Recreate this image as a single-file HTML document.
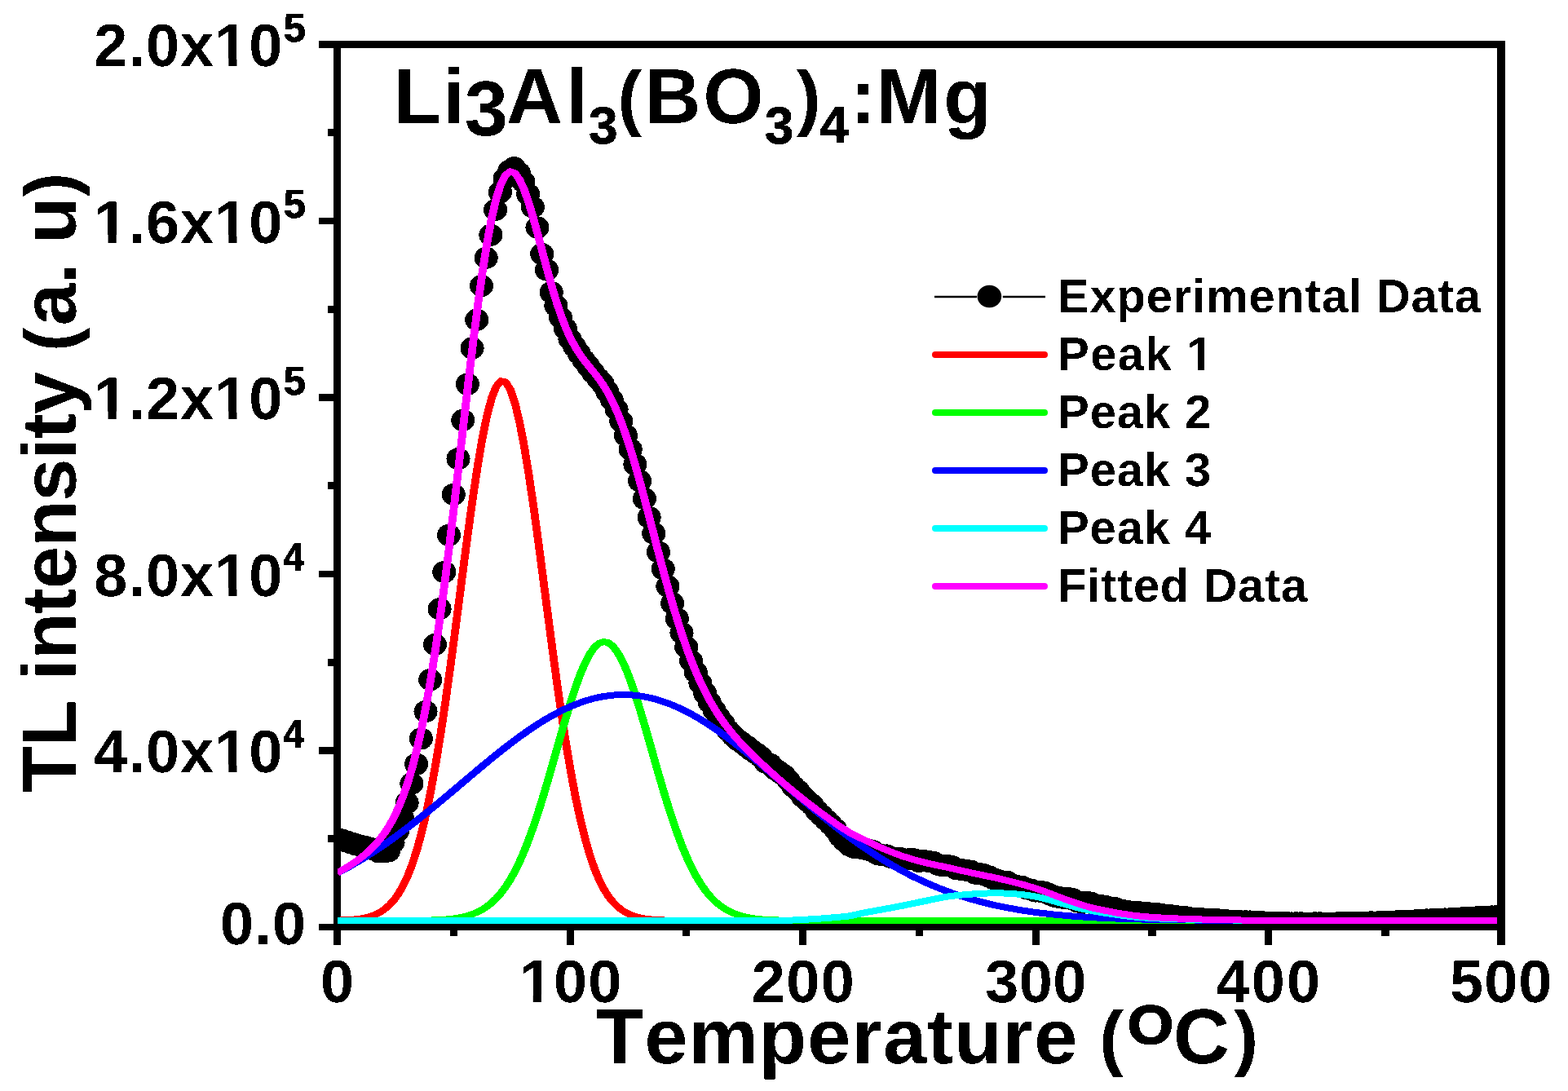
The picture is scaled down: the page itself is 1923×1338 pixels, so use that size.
<!DOCTYPE html>
<html lang="en"><head><meta charset="utf-8"><title>TL glow curve - Li3Al3(BO3)4:Mg</title>
<style>html,body{margin:0;padding:0;background:#fff;overflow:hidden}svg{display:block}text{font-family:"Liberation Sans",Arial,Helvetica,sans-serif;font-weight:bold;fill:#000;white-space:pre;font-kerning:none;text-rendering:geometricPrecision}</style></head><body>
<svg width="1923" height="1338" viewBox="0 0 1923 1338">
<rect width="1923" height="1338" fill="#fff"/>
<defs><clipPath id="c"><rect x="414" y="59" width="1422" height="1074"/></clipPath><filter id="bw" filterUnits="userSpaceOnUse" x="0" y="0" width="1923" height="1338" color-interpolation-filters="sRGB"><feComponentTransfer><feFuncA type="discrete" tableValues="0 1"/></feComponentTransfer></filter></defs>
<g fill="#000" shape-rendering="crispEdges"><rect x="409" y="50" width="9" height="1109"/><rect x="1836" y="50" width="10" height="1109"/><rect x="391" y="50" width="1455" height="9"/><rect x="391" y="1133" width="1455" height="8"/><rect x="391" y="267" width="18" height="8"/><rect x="391" y="483" width="18" height="9"/><rect x="391" y="700" width="18" height="8"/><rect x="391" y="916" width="18" height="9"/><rect x="402" y="158" width="7" height="9"/><rect x="402" y="375" width="7" height="9"/><rect x="402" y="591" width="7" height="9"/><rect x="402" y="808" width="7" height="9"/><rect x="402" y="1024" width="7" height="9"/><rect x="695" y="1141" width="9" height="18"/><rect x="980" y="1141" width="9" height="18"/><rect x="1266" y="1141" width="9" height="18"/><rect x="1551" y="1141" width="9" height="18"/><rect x="552" y="1141" width="9" height="7"/><rect x="837" y="1141" width="9" height="7"/><rect x="1123" y="1141" width="9" height="7"/><rect x="1408" y="1141" width="10" height="7"/><rect x="1694" y="1141" width="10" height="7"/></g>
<g clip-path="url(#c)" fill="none" stroke-linejoin="round" shape-rendering="crispEdges">
<path d="M413.50,1029.7 L419.21,1029.9 L424.92,1032.0 L430.63,1033.9 L436.34,1035.7 L442.05,1037.3 L447.76,1038.5 L453.47,1040.1 L459.18,1042.0 L464.89,1044.9 L470.60,1044.9 L476.31,1044.0 L482.02,1033.2 L487.73,1019.0 L493.44,1003.2 L499.15,984.6 L504.86,961.0 L510.57,937.1 L516.28,905.9 L521.99,872.6 L527.70,833.7 L533.41,790.5 L539.12,746.8 L544.83,701.5 L550.54,656.3 L556.25,606.4 L561.96,562.7 L567.67,515.3 L573.38,471.2 L579.09,427.1 L584.80,392.2 L590.51,350.6 L596.22,316.2 L601.93,288.2 L607.64,257.4 L613.35,235.7 L619.06,219.1 L624.77,209.3 L630.48,205.8 L636.19,211.9 L641.90,223.1 L647.61,238.2 L653.32,254.0 L659.03,279.0 L664.74,311.5 L670.45,331.0 L676.16,358.5 L681.87,375.0 L687.58,389.5 L693.29,403.0 L699.00,416.0 L704.71,425.0 L710.42,433.8 L716.13,441.9 L721.84,449.3 L727.55,457.1 L733.26,464.0 L738.97,470.5 L744.68,480.1 L750.39,490.3 L756.10,502.0 L761.81,516.7 L767.52,534.1 L773.23,551.0 L778.94,569.6 L784.65,589.8 L790.36,611.6 L796.07,634.5 L801.78,654.2 L807.49,677.1 L813.20,697.9 L818.91,719.1 L824.62,739.9 L830.33,758.8 L836.04,776.2 L841.75,793.8 L847.46,810.4 L853.17,824.4 L858.88,837.8 L864.59,850.0 L870.30,861.5 L876.01,871.0 L881.72,880.2 L887.43,888.0 L893.14,895.9 L898.85,902.1 L904.56,907.3 L910.27,911.3 L915.98,915.5 L921.69,920.2 L927.40,924.0 L933.11,928.3 L938.82,934.9 L944.53,937.3 L950.24,943.1 L955.95,946.9 L961.66,951.0 L967.37,957.4 L973.08,964.8 L978.79,969.6 L984.50,977.0 L990.21,982.2 L995.92,987.1 L1001.63,994.2 L1007.34,999.8 L1013.05,1005.4 L1018.76,1011.1 L1024.47,1017.1 L1030.18,1025.5 L1035.89,1031.4 L1041.60,1036.7 L1047.31,1039.4 L1053.02,1039.7 L1058.73,1040.9 L1064.44,1042.1 L1070.15,1043.6 L1075.86,1047.3 L1081.57,1048.6 L1087.28,1049.0 L1092.99,1051.5 L1098.70,1052.4 L1104.41,1052.6 L1110.12,1054.4 L1115.83,1053.6 L1121.54,1054.0 L1127.25,1056.5 L1132.96,1055.7 L1138.67,1056.4 L1144.38,1057.3 L1150.09,1060.2 L1155.80,1061.7 L1161.51,1061.3 L1167.22,1062.6 L1172.93,1065.6 L1178.64,1066.4 L1184.35,1067.1 L1190.06,1068.1 L1195.77,1071.1 L1201.48,1071.6 L1207.19,1072.9 L1212.90,1075.1 L1218.61,1077.7 L1224.32,1079.7 L1230.03,1081.0 L1235.74,1081.6 L1241.45,1085.2 L1247.16,1086.7 L1252.87,1087.3 L1258.58,1089.6 L1264.29,1091.0 L1270.00,1093.0 L1275.71,1093.2 L1281.42,1094.4 L1287.13,1096.7 L1292.84,1099.2 L1298.55,1100.4 L1304.26,1101.2 L1309.97,1101.6 L1315.68,1102.8 L1321.39,1105.8 L1327.10,1107.4 L1332.81,1106.3 L1338.52,1107.4 L1344.23,1109.9 L1349.94,1110.4 L1355.65,1111.4 L1361.36,1113.1 L1367.07,1113.5 L1372.78,1116.5 L1378.49,1116.9 L1384.20,1117.8 L1389.91,1118.3 L1395.62,1118.4 L1401.33,1119.5 L1407.04,1119.5 L1412.75,1120.4 L1418.46,1120.5 L1424.17,1121.2 L1429.88,1122.1 L1435.59,1122.6 L1441.30,1123.3 L1447.01,1124.2 L1452.72,1124.6 L1458.43,1125.6 L1464.14,1126.3 L1469.85,1126.6 L1475.56,1127.0 L1481.27,1127.5 L1486.98,1127.3 L1492.69,1127.7 L1498.40,1128.6 L1504.11,1128.8 L1509.82,1129.2 L1515.53,1129.4 L1521.24,1129.8 L1526.95,1129.9 L1532.66,1130.0 L1538.37,1130.6 L1544.08,1130.7 L1549.79,1131.0 L1555.50,1131.2 L1561.21,1131.8 L1566.92,1131.4 L1572.63,1131.4 L1578.34,1131.7 L1584.05,1132.0 L1589.76,1131.9 L1595.47,1131.9 L1601.18,1132.1 L1606.89,1132.5 L1612.60,1131.9 L1618.31,1131.9 L1624.02,1132.3 L1629.73,1132.1 L1635.44,1132.5 L1641.15,1131.7 L1646.86,1131.7 L1652.57,1131.6 L1658.28,1131.4 L1663.99,1131.6 L1669.70,1131.4 L1675.41,1131.3 L1681.12,1130.9 L1686.83,1131.1 L1692.54,1130.3 L1698.25,1130.4 L1703.96,1130.1 L1709.67,1130.2 L1715.38,1129.5 L1721.09,1129.2 L1726.80,1129.1 L1732.51,1129.1 L1738.22,1128.5 L1743.93,1128.8 L1749.64,1128.0 L1755.35,1127.9 L1761.06,1127.8 L1766.77,1127.3 L1772.48,1127.0 L1778.19,1126.9 L1783.90,1126.2 L1789.61,1126.3 L1795.32,1125.6 L1801.03,1125.3 L1806.74,1125.5 L1812.45,1124.8 L1818.16,1124.8 L1823.87,1124.1 L1829.58,1124.0 L1835.29,1123.7" stroke="#000" stroke-width="2"/>
<g fill="#000"><ellipse cx="413.5" cy="1029.7" rx="14.55" ry="13.6"/><ellipse cx="419.2" cy="1029.9" rx="14.55" ry="13.6"/><ellipse cx="424.9" cy="1032.0" rx="14.55" ry="13.6"/><ellipse cx="430.6" cy="1033.9" rx="14.55" ry="13.6"/><ellipse cx="436.3" cy="1035.7" rx="14.55" ry="13.6"/><ellipse cx="442.1" cy="1037.3" rx="14.55" ry="13.6"/><ellipse cx="447.8" cy="1038.5" rx="14.55" ry="13.6"/><ellipse cx="453.5" cy="1040.1" rx="14.55" ry="13.6"/><ellipse cx="459.2" cy="1042.0" rx="14.55" ry="13.6"/><ellipse cx="464.9" cy="1044.9" rx="14.55" ry="13.6"/><ellipse cx="470.6" cy="1044.9" rx="14.55" ry="13.6"/><ellipse cx="476.3" cy="1044.0" rx="14.55" ry="13.6"/><ellipse cx="482.0" cy="1033.2" rx="14.55" ry="13.6"/><ellipse cx="487.7" cy="1019.0" rx="14.55" ry="13.6"/><ellipse cx="493.4" cy="1003.2" rx="14.55" ry="13.6"/><ellipse cx="499.1" cy="984.6" rx="14.55" ry="13.6"/><ellipse cx="504.9" cy="961.0" rx="14.55" ry="13.6"/><ellipse cx="510.6" cy="937.1" rx="14.55" ry="13.6"/><ellipse cx="516.3" cy="905.9" rx="14.55" ry="13.6"/><ellipse cx="522.0" cy="872.6" rx="14.55" ry="13.6"/><ellipse cx="527.7" cy="833.7" rx="14.55" ry="13.6"/><ellipse cx="533.4" cy="790.5" rx="14.55" ry="13.6"/><ellipse cx="539.1" cy="746.8" rx="14.55" ry="13.6"/><ellipse cx="544.8" cy="701.5" rx="14.55" ry="13.6"/><ellipse cx="550.5" cy="656.3" rx="14.55" ry="13.6"/><ellipse cx="556.2" cy="606.4" rx="14.55" ry="13.6"/><ellipse cx="562.0" cy="562.7" rx="14.55" ry="13.6"/><ellipse cx="567.7" cy="515.3" rx="14.55" ry="13.6"/><ellipse cx="573.4" cy="471.2" rx="14.55" ry="13.6"/><ellipse cx="579.1" cy="427.1" rx="14.55" ry="13.6"/><ellipse cx="584.8" cy="392.2" rx="14.55" ry="13.6"/><ellipse cx="590.5" cy="350.6" rx="14.55" ry="13.6"/><ellipse cx="596.2" cy="316.2" rx="14.55" ry="13.6"/><ellipse cx="601.9" cy="288.2" rx="14.55" ry="13.6"/><ellipse cx="607.6" cy="257.4" rx="14.55" ry="13.6"/><ellipse cx="613.4" cy="235.7" rx="14.55" ry="13.6"/><ellipse cx="619.1" cy="219.1" rx="14.55" ry="13.6"/><ellipse cx="624.8" cy="209.3" rx="14.55" ry="13.6"/><ellipse cx="630.5" cy="205.8" rx="14.55" ry="13.6"/><ellipse cx="636.2" cy="211.9" rx="14.55" ry="13.6"/><ellipse cx="641.9" cy="223.1" rx="14.55" ry="13.6"/><ellipse cx="647.6" cy="238.2" rx="14.55" ry="13.6"/><ellipse cx="653.3" cy="254.0" rx="14.55" ry="13.6"/><ellipse cx="659.0" cy="279.0" rx="14.55" ry="13.6"/><ellipse cx="664.7" cy="311.5" rx="14.55" ry="13.6"/><ellipse cx="670.5" cy="331.0" rx="14.55" ry="13.6"/><ellipse cx="676.2" cy="358.5" rx="14.55" ry="13.6"/><ellipse cx="681.9" cy="375.0" rx="14.55" ry="13.6"/><ellipse cx="687.6" cy="389.5" rx="14.55" ry="13.6"/><ellipse cx="693.3" cy="403.0" rx="14.55" ry="13.6"/><ellipse cx="699.0" cy="416.0" rx="14.55" ry="13.6"/><ellipse cx="704.7" cy="425.0" rx="14.55" ry="13.6"/><ellipse cx="710.4" cy="433.8" rx="14.55" ry="13.6"/><ellipse cx="716.1" cy="441.9" rx="14.55" ry="13.6"/><ellipse cx="721.8" cy="449.3" rx="14.55" ry="13.6"/><ellipse cx="727.5" cy="457.1" rx="14.55" ry="13.6"/><ellipse cx="733.3" cy="464.0" rx="14.55" ry="13.6"/><ellipse cx="739.0" cy="470.5" rx="14.55" ry="13.6"/><ellipse cx="744.7" cy="480.1" rx="14.55" ry="13.6"/><ellipse cx="750.4" cy="490.3" rx="14.55" ry="13.6"/><ellipse cx="756.1" cy="502.0" rx="14.55" ry="13.6"/><ellipse cx="761.8" cy="516.7" rx="14.55" ry="13.6"/><ellipse cx="767.5" cy="534.1" rx="14.55" ry="13.6"/><ellipse cx="773.2" cy="551.0" rx="14.55" ry="13.6"/><ellipse cx="778.9" cy="569.6" rx="14.55" ry="13.6"/><ellipse cx="784.6" cy="589.8" rx="14.55" ry="13.6"/><ellipse cx="790.4" cy="611.6" rx="14.55" ry="13.6"/><ellipse cx="796.1" cy="634.5" rx="14.55" ry="13.6"/><ellipse cx="801.8" cy="654.2" rx="14.55" ry="13.6"/><ellipse cx="807.5" cy="677.1" rx="14.55" ry="13.6"/><ellipse cx="813.2" cy="697.9" rx="14.55" ry="13.6"/><ellipse cx="818.9" cy="719.1" rx="14.55" ry="13.6"/><ellipse cx="824.6" cy="739.9" rx="14.55" ry="13.6"/><ellipse cx="830.3" cy="758.8" rx="14.55" ry="13.6"/><ellipse cx="836.0" cy="776.2" rx="14.55" ry="13.6"/><ellipse cx="841.8" cy="793.8" rx="14.55" ry="13.6"/><ellipse cx="847.5" cy="810.4" rx="14.55" ry="13.6"/><ellipse cx="853.2" cy="824.4" rx="14.55" ry="13.6"/><ellipse cx="858.9" cy="837.8" rx="14.55" ry="13.6"/><ellipse cx="864.6" cy="850.0" rx="14.55" ry="13.6"/><ellipse cx="870.3" cy="861.5" rx="14.55" ry="13.6"/><ellipse cx="876.0" cy="871.0" rx="14.55" ry="13.6"/><ellipse cx="881.7" cy="880.2" rx="14.55" ry="13.6"/><ellipse cx="887.4" cy="888.0" rx="14.55" ry="13.6"/><ellipse cx="893.1" cy="895.9" rx="14.55" ry="13.6"/><ellipse cx="898.9" cy="902.1" rx="14.55" ry="13.6"/><ellipse cx="904.6" cy="907.3" rx="14.55" ry="13.6"/><ellipse cx="910.3" cy="911.3" rx="14.55" ry="13.6"/><ellipse cx="916.0" cy="915.5" rx="14.55" ry="13.6"/><ellipse cx="921.7" cy="920.2" rx="14.55" ry="13.6"/><ellipse cx="927.4" cy="924.0" rx="14.55" ry="13.6"/><ellipse cx="933.1" cy="928.3" rx="14.55" ry="13.6"/><ellipse cx="938.8" cy="934.9" rx="14.55" ry="13.6"/><ellipse cx="944.5" cy="937.3" rx="14.55" ry="13.6"/><ellipse cx="950.2" cy="943.1" rx="14.55" ry="13.6"/><ellipse cx="956.0" cy="946.9" rx="14.55" ry="13.6"/><ellipse cx="961.7" cy="951.0" rx="14.55" ry="13.6"/><ellipse cx="967.4" cy="957.4" rx="14.55" ry="13.6"/><ellipse cx="973.1" cy="964.8" rx="14.55" ry="13.6"/><ellipse cx="978.8" cy="969.6" rx="14.55" ry="13.6"/><ellipse cx="984.5" cy="977.0" rx="14.55" ry="13.6"/><ellipse cx="990.2" cy="982.2" rx="14.55" ry="13.6"/><ellipse cx="995.9" cy="987.1" rx="14.55" ry="13.6"/><ellipse cx="1001.6" cy="994.2" rx="14.55" ry="13.6"/><ellipse cx="1007.3" cy="999.8" rx="14.55" ry="13.6"/><ellipse cx="1013.0" cy="1005.4" rx="14.55" ry="13.6"/><ellipse cx="1018.8" cy="1011.1" rx="14.55" ry="13.6"/><ellipse cx="1024.5" cy="1017.1" rx="14.55" ry="13.6"/><ellipse cx="1030.2" cy="1025.5" rx="14.55" ry="13.6"/><ellipse cx="1035.9" cy="1031.4" rx="14.55" ry="13.6"/><ellipse cx="1041.6" cy="1036.7" rx="14.55" ry="13.6"/><ellipse cx="1047.3" cy="1039.4" rx="14.55" ry="13.6"/><ellipse cx="1053.0" cy="1039.7" rx="14.55" ry="13.6"/><ellipse cx="1058.7" cy="1040.9" rx="14.55" ry="13.6"/><ellipse cx="1064.4" cy="1042.1" rx="14.55" ry="13.6"/><ellipse cx="1070.2" cy="1043.6" rx="14.55" ry="13.6"/><ellipse cx="1075.9" cy="1047.3" rx="14.55" ry="13.6"/><ellipse cx="1081.6" cy="1048.6" rx="14.55" ry="13.6"/><ellipse cx="1087.3" cy="1049.0" rx="14.55" ry="13.6"/><ellipse cx="1093.0" cy="1051.5" rx="14.55" ry="13.6"/><ellipse cx="1098.7" cy="1052.4" rx="14.55" ry="13.6"/><ellipse cx="1104.4" cy="1052.6" rx="14.55" ry="13.6"/><ellipse cx="1110.1" cy="1054.4" rx="14.55" ry="13.6"/><ellipse cx="1115.8" cy="1053.6" rx="14.55" ry="13.6"/><ellipse cx="1121.5" cy="1054.0" rx="14.55" ry="13.6"/><ellipse cx="1127.2" cy="1056.5" rx="14.55" ry="13.6"/><ellipse cx="1133.0" cy="1055.7" rx="14.55" ry="13.6"/><ellipse cx="1138.7" cy="1056.4" rx="14.55" ry="13.6"/><ellipse cx="1144.4" cy="1057.3" rx="14.55" ry="13.6"/><ellipse cx="1150.1" cy="1060.2" rx="14.55" ry="13.6"/><ellipse cx="1155.8" cy="1061.7" rx="14.55" ry="13.6"/><ellipse cx="1161.5" cy="1061.3" rx="14.55" ry="13.6"/><ellipse cx="1167.2" cy="1062.6" rx="14.55" ry="13.6"/><ellipse cx="1172.9" cy="1065.6" rx="14.55" ry="13.6"/><ellipse cx="1178.6" cy="1066.4" rx="14.55" ry="13.6"/><ellipse cx="1184.3" cy="1067.1" rx="14.55" ry="13.6"/><ellipse cx="1190.1" cy="1068.1" rx="14.55" ry="13.6"/><ellipse cx="1195.8" cy="1071.1" rx="14.55" ry="13.6"/><ellipse cx="1201.5" cy="1071.6" rx="14.55" ry="13.6"/><ellipse cx="1207.2" cy="1072.9" rx="14.55" ry="13.6"/><ellipse cx="1212.9" cy="1075.1" rx="14.55" ry="13.6"/><ellipse cx="1218.6" cy="1077.7" rx="14.55" ry="13.6"/><ellipse cx="1224.3" cy="1079.7" rx="14.55" ry="13.6"/><ellipse cx="1230.0" cy="1081.0" rx="14.55" ry="13.6"/><ellipse cx="1235.7" cy="1081.6" rx="14.55" ry="13.6"/><ellipse cx="1241.5" cy="1085.2" rx="14.55" ry="13.6"/><ellipse cx="1247.2" cy="1086.7" rx="14.55" ry="13.6"/><ellipse cx="1252.9" cy="1087.3" rx="14.55" ry="13.6"/><ellipse cx="1258.6" cy="1089.6" rx="14.55" ry="13.6"/><ellipse cx="1264.3" cy="1091.0" rx="14.55" ry="13.6"/><ellipse cx="1270.0" cy="1093.0" rx="14.55" ry="13.6"/><ellipse cx="1275.7" cy="1093.2" rx="14.55" ry="13.6"/><ellipse cx="1281.4" cy="1094.4" rx="14.55" ry="13.6"/><ellipse cx="1287.1" cy="1096.7" rx="14.55" ry="13.6"/><ellipse cx="1292.8" cy="1099.2" rx="14.55" ry="13.6"/><ellipse cx="1298.5" cy="1100.4" rx="14.55" ry="13.6"/><ellipse cx="1304.3" cy="1101.2" rx="14.55" ry="13.6"/><ellipse cx="1310.0" cy="1101.6" rx="14.55" ry="13.6"/><ellipse cx="1315.7" cy="1102.8" rx="14.55" ry="13.6"/><ellipse cx="1321.4" cy="1105.8" rx="14.55" ry="13.6"/><ellipse cx="1327.1" cy="1107.4" rx="14.55" ry="13.6"/><ellipse cx="1332.8" cy="1106.3" rx="14.55" ry="13.6"/><ellipse cx="1338.5" cy="1107.4" rx="14.55" ry="13.6"/><ellipse cx="1344.2" cy="1109.9" rx="14.55" ry="13.6"/><ellipse cx="1349.9" cy="1110.4" rx="14.55" ry="13.6"/><ellipse cx="1355.7" cy="1111.4" rx="14.55" ry="13.6"/><ellipse cx="1361.4" cy="1113.1" rx="14.55" ry="13.6"/><ellipse cx="1367.1" cy="1113.5" rx="14.55" ry="13.6"/><ellipse cx="1372.8" cy="1116.5" rx="14.55" ry="13.6"/><ellipse cx="1378.5" cy="1116.9" rx="14.55" ry="13.6"/><ellipse cx="1384.2" cy="1117.8" rx="14.55" ry="13.6"/><ellipse cx="1389.9" cy="1118.3" rx="14.55" ry="13.6"/><ellipse cx="1395.6" cy="1118.4" rx="14.55" ry="13.6"/><ellipse cx="1401.3" cy="1119.5" rx="14.55" ry="13.6"/><ellipse cx="1407.0" cy="1119.5" rx="14.55" ry="13.6"/><ellipse cx="1412.8" cy="1120.4" rx="14.55" ry="13.6"/><ellipse cx="1418.5" cy="1120.5" rx="14.55" ry="13.6"/><ellipse cx="1424.2" cy="1121.2" rx="14.55" ry="13.6"/><ellipse cx="1429.9" cy="1122.1" rx="14.55" ry="13.6"/><ellipse cx="1435.6" cy="1122.6" rx="14.55" ry="13.6"/><ellipse cx="1441.3" cy="1123.3" rx="14.55" ry="13.6"/><ellipse cx="1447.0" cy="1124.2" rx="14.55" ry="13.6"/><ellipse cx="1452.7" cy="1124.6" rx="14.55" ry="13.6"/><ellipse cx="1458.4" cy="1125.6" rx="14.55" ry="13.6"/><ellipse cx="1464.1" cy="1126.3" rx="14.55" ry="13.6"/><ellipse cx="1469.8" cy="1126.6" rx="14.55" ry="13.6"/><ellipse cx="1475.6" cy="1127.0" rx="14.55" ry="13.6"/><ellipse cx="1481.3" cy="1127.5" rx="14.55" ry="13.6"/><ellipse cx="1487.0" cy="1127.3" rx="14.55" ry="13.6"/><ellipse cx="1492.7" cy="1127.7" rx="14.55" ry="13.6"/><ellipse cx="1498.4" cy="1128.6" rx="14.55" ry="13.6"/><ellipse cx="1504.1" cy="1128.8" rx="14.55" ry="13.6"/><ellipse cx="1509.8" cy="1129.2" rx="14.55" ry="13.6"/><ellipse cx="1515.5" cy="1129.4" rx="14.55" ry="13.6"/><ellipse cx="1521.2" cy="1129.8" rx="14.55" ry="13.6"/><ellipse cx="1527.0" cy="1129.9" rx="14.55" ry="13.6"/><ellipse cx="1532.7" cy="1130.0" rx="14.55" ry="13.6"/><ellipse cx="1538.4" cy="1130.6" rx="14.55" ry="13.6"/><ellipse cx="1544.1" cy="1130.7" rx="14.55" ry="13.6"/><ellipse cx="1549.8" cy="1131.0" rx="14.55" ry="13.6"/><ellipse cx="1555.5" cy="1131.2" rx="14.55" ry="13.6"/><ellipse cx="1561.2" cy="1131.8" rx="14.55" ry="13.6"/><ellipse cx="1566.9" cy="1131.4" rx="14.55" ry="13.6"/><ellipse cx="1572.6" cy="1131.4" rx="14.55" ry="13.6"/><ellipse cx="1578.3" cy="1131.7" rx="14.55" ry="13.6"/><ellipse cx="1584.0" cy="1132.0" rx="14.55" ry="13.6"/><ellipse cx="1589.8" cy="1131.9" rx="14.55" ry="13.6"/><ellipse cx="1595.5" cy="1131.9" rx="14.55" ry="13.6"/><ellipse cx="1601.2" cy="1132.1" rx="14.55" ry="13.6"/><ellipse cx="1606.9" cy="1132.5" rx="14.55" ry="13.6"/><ellipse cx="1612.6" cy="1131.9" rx="14.55" ry="13.6"/><ellipse cx="1618.3" cy="1131.9" rx="14.55" ry="13.6"/><ellipse cx="1624.0" cy="1132.3" rx="14.55" ry="13.6"/><ellipse cx="1629.7" cy="1132.1" rx="14.55" ry="13.6"/><ellipse cx="1635.4" cy="1132.5" rx="14.55" ry="13.6"/><ellipse cx="1641.2" cy="1131.7" rx="14.55" ry="13.6"/><ellipse cx="1646.9" cy="1131.7" rx="14.55" ry="13.6"/><ellipse cx="1652.6" cy="1131.6" rx="14.55" ry="13.6"/><ellipse cx="1658.3" cy="1131.4" rx="14.55" ry="13.6"/><ellipse cx="1664.0" cy="1131.6" rx="14.55" ry="13.6"/><ellipse cx="1669.7" cy="1131.4" rx="14.55" ry="13.6"/><ellipse cx="1675.4" cy="1131.3" rx="14.55" ry="13.6"/><ellipse cx="1681.1" cy="1130.9" rx="14.55" ry="13.6"/><ellipse cx="1686.8" cy="1131.1" rx="14.55" ry="13.6"/><ellipse cx="1692.5" cy="1130.3" rx="14.55" ry="13.6"/><ellipse cx="1698.2" cy="1130.4" rx="14.55" ry="13.6"/><ellipse cx="1704.0" cy="1130.1" rx="14.55" ry="13.6"/><ellipse cx="1709.7" cy="1130.2" rx="14.55" ry="13.6"/><ellipse cx="1715.4" cy="1129.5" rx="14.55" ry="13.6"/><ellipse cx="1721.1" cy="1129.2" rx="14.55" ry="13.6"/><ellipse cx="1726.8" cy="1129.1" rx="14.55" ry="13.6"/><ellipse cx="1732.5" cy="1129.1" rx="14.55" ry="13.6"/><ellipse cx="1738.2" cy="1128.5" rx="14.55" ry="13.6"/><ellipse cx="1743.9" cy="1128.8" rx="14.55" ry="13.6"/><ellipse cx="1749.6" cy="1128.0" rx="14.55" ry="13.6"/><ellipse cx="1755.3" cy="1127.9" rx="14.55" ry="13.6"/><ellipse cx="1761.1" cy="1127.8" rx="14.55" ry="13.6"/><ellipse cx="1766.8" cy="1127.3" rx="14.55" ry="13.6"/><ellipse cx="1772.5" cy="1127.0" rx="14.55" ry="13.6"/><ellipse cx="1778.2" cy="1126.9" rx="14.55" ry="13.6"/><ellipse cx="1783.9" cy="1126.2" rx="14.55" ry="13.6"/><ellipse cx="1789.6" cy="1126.3" rx="14.55" ry="13.6"/><ellipse cx="1795.3" cy="1125.6" rx="14.55" ry="13.6"/><ellipse cx="1801.0" cy="1125.3" rx="14.55" ry="13.6"/><ellipse cx="1806.7" cy="1125.5" rx="14.55" ry="13.6"/><ellipse cx="1812.5" cy="1124.8" rx="14.55" ry="13.6"/><ellipse cx="1818.2" cy="1124.8" rx="14.55" ry="13.6"/><ellipse cx="1823.9" cy="1124.1" rx="14.55" ry="13.6"/><ellipse cx="1829.6" cy="1124.0" rx="14.55" ry="13.6"/><ellipse cx="1835.3" cy="1123.7" rx="14.55" ry="13.6"/></g>
<g transform="scale(1.225,1)" stroke-width="8">
<path d="M337.55,1128.7 L338.48,1128.6 L343.14,1128.4 L347.81,1128.2 L352.47,1127.8 L357.13,1127.2 L361.79,1126.4 L366.45,1125.2 L371.11,1123.6 L375.77,1121.5 L380.43,1118.7 L385.10,1114.9 L389.76,1110.0 L394.42,1103.8 L399.08,1095.8 L403.74,1085.8 L408.40,1073.6 L413.06,1058.7 L417.72,1040.8 L422.39,1019.8 L427.05,995.3 L431.71,967.4 L436.37,935.9 L441.03,901.0 L445.69,863.0 L450.35,822.4 L455.01,779.9 L459.68,736.1 L464.34,692.2 L469.00,649.2 L473.66,608.2 L478.32,570.5 L482.98,537.1 L487.64,509.3 L492.30,487.9 L496.96,473.7 L501.63,467.2 L506.29,468.6 L510.95,477.8 L515.61,494.6 L520.27,518.4 L524.93,548.2 L529.59,583.2 L534.25,622.2 L538.92,664.1 L543.58,707.6 L548.24,751.5 L552.90,794.9 L557.56,836.9 L562.22,876.6 L566.88,913.6 L571.54,947.3 L576.21,977.6 L580.87,1004.3 L585.53,1027.5 L590.19,1047.4 L594.85,1064.2 L599.51,1078.2 L604.17,1089.6 L608.83,1098.8 L613.50,1106.1 L618.16,1111.9 L622.82,1116.4 L627.48,1119.8 L632.14,1122.3 L636.80,1124.3 L641.46,1125.7 L646.12,1126.7 L650.79,1127.4 L655.45,1127.9 L660.11,1128.3 L664.77,1128.5 L669.43,1128.7 L674.09,1128.8 L678.75,1128.9 L683.41,1128.9 L688.08,1128.9 L692.74,1129.0 L697.40,1129.0 L702.06,1129.0 L706.72,1129.0 L711.38,1129.0 L716.04,1129.0 L720.70,1129.0 L725.36,1129.0 L730.03,1129.0 L734.69,1129.0 L739.35,1129.0 L744.01,1129.0 L748.67,1129.0 L753.33,1129.0 L757.99,1129.0 L762.65,1129.0 L767.32,1129.0 L771.98,1129.0 L776.64,1129.0 L781.30,1129.0 L785.96,1129.0 L790.62,1129.0 L795.28,1129.0 L799.94,1129.0 L804.61,1129.0 L809.27,1129.0 L813.93,1129.0 L818.59,1129.0 L823.25,1129.0 L827.91,1129.0 L832.57,1129.0 L837.23,1129.0 L841.90,1129.0 L846.56,1129.0 L851.22,1129.0 L855.88,1129.0 L860.54,1129.0 L865.20,1129.0 L869.86,1129.0 L874.52,1129.0 L879.19,1129.0 L883.85,1129.0 L888.51,1129.0 L893.17,1129.0 L897.83,1129.0 L902.49,1129.0 L907.15,1129.0 L911.81,1129.0 L916.48,1129.0 L921.14,1129.0 L925.80,1129.0 L930.46,1129.0 L935.12,1129.0 L939.78,1129.0 L944.44,1129.0 L949.10,1129.0 L953.76,1129.0 L958.43,1129.0 L963.09,1129.0 L967.75,1129.0 L972.41,1129.0 L977.07,1129.0 L981.73,1129.0 L986.39,1129.0 L991.05,1129.0 L995.72,1129.0 L1000.38,1129.0 L1005.04,1129.0 L1009.70,1129.0 L1014.36,1129.0 L1019.02,1129.0 L1023.68,1129.0 L1028.34,1129.0 L1033.01,1129.0 L1037.67,1129.0 L1042.33,1129.0 L1046.99,1129.0 L1051.65,1129.0 L1056.31,1129.0 L1060.97,1129.0 L1065.63,1129.0 L1070.30,1129.0 L1074.96,1129.0 L1079.62,1129.0 L1084.28,1129.0 L1088.94,1129.0 L1093.60,1129.0 L1098.26,1129.0 L1102.92,1129.0 L1107.59,1129.0 L1112.25,1129.0 L1116.91,1129.0 L1121.57,1129.0 L1126.23,1129.0 L1130.89,1129.0 L1135.55,1129.0 L1140.21,1129.0 L1144.88,1129.0 L1149.54,1129.0 L1154.20,1129.0 L1158.86,1129.0 L1163.52,1129.0 L1168.18,1129.0 L1172.84,1129.0 L1177.50,1129.0 L1182.16,1129.0 L1186.83,1129.0 L1191.49,1129.0 L1196.15,1129.0 L1200.81,1129.0 L1205.47,1129.0 L1210.13,1129.0 L1214.79,1129.0 L1219.45,1129.0 L1224.12,1129.0 L1228.78,1129.0 L1233.44,1129.0 L1238.10,1129.0 L1242.76,1129.0 L1247.42,1129.0 L1252.08,1129.0 L1256.74,1129.0 L1261.41,1129.0 L1266.07,1129.0 L1270.73,1129.0 L1275.39,1129.0 L1280.05,1129.0 L1284.71,1129.0 L1289.37,1129.0 L1294.03,1129.0 L1298.70,1129.0 L1303.36,1129.0 L1308.02,1129.0 L1312.68,1129.0 L1317.34,1129.0 L1322.00,1129.0 L1326.66,1129.0 L1331.32,1129.0 L1335.99,1129.0 L1340.65,1129.0 L1345.31,1129.0 L1349.97,1129.0 L1354.63,1129.0 L1359.29,1129.0 L1363.95,1129.0 L1368.61,1129.0 L1373.28,1129.0 L1377.94,1129.0 L1382.60,1129.0 L1387.26,1129.0 L1391.92,1129.0 L1396.58,1129.0 L1401.24,1129.0 L1405.90,1129.0 L1410.56,1129.0 L1415.23,1129.0 L1419.89,1129.0 L1424.55,1129.0 L1429.21,1129.0 L1433.87,1129.0 L1438.53,1129.0 L1443.19,1129.0 L1447.85,1129.0 L1452.52,1129.0 L1457.18,1129.0 L1461.84,1129.0 L1466.50,1129.0 L1471.16,1129.0 L1475.82,1129.0 L1480.48,1129.0 L1485.14,1129.0 L1489.81,1129.0 L1494.47,1129.0 L1498.66,1129.0" stroke="#f00"/>
<path d="M337.55,1129.0 L338.48,1129.0 L343.14,1129.0 L347.81,1129.0 L352.47,1129.0 L357.13,1129.0 L361.79,1129.0 L366.45,1129.0 L371.11,1129.0 L375.77,1129.0 L380.43,1129.0 L385.10,1129.0 L389.76,1129.0 L394.42,1129.0 L399.08,1129.0 L403.74,1128.9 L408.40,1128.9 L413.06,1128.9 L417.72,1128.8 L422.39,1128.8 L427.05,1128.6 L431.71,1128.5 L436.37,1128.3 L441.03,1128.0 L445.69,1127.6 L450.35,1127.1 L455.01,1126.4 L459.68,1125.5 L464.34,1124.3 L469.00,1122.8 L473.66,1120.8 L478.32,1118.4 L482.98,1115.4 L487.64,1111.6 L492.30,1107.1 L496.96,1101.6 L501.63,1095.1 L506.29,1087.5 L510.95,1078.5 L515.61,1068.3 L520.27,1056.6 L524.93,1043.5 L529.59,1028.9 L534.25,1013.0 L538.92,995.9 L543.58,977.6 L548.24,958.4 L552.90,938.6 L557.56,918.5 L562.22,898.5 L566.88,878.9 L571.54,860.2 L576.21,842.8 L580.87,827.1 L585.53,813.6 L590.19,802.6 L594.85,794.3 L599.51,789.1 L604.17,787.0 L608.83,788.1 L613.50,792.4 L618.16,799.8 L622.82,810.0 L627.48,822.8 L632.14,837.9 L636.80,854.8 L641.46,873.2 L646.12,892.5 L650.79,912.5 L655.45,932.6 L660.11,952.5 L664.77,971.9 L669.43,990.5 L674.09,1008.0 L678.75,1024.3 L683.41,1039.3 L688.08,1052.8 L692.74,1064.9 L697.40,1075.6 L702.06,1084.9 L706.72,1092.9 L711.38,1099.8 L716.04,1105.6 L720.70,1110.4 L725.36,1114.3 L730.03,1117.6 L734.69,1120.2 L739.35,1122.2 L744.01,1123.9 L748.67,1125.1 L753.33,1126.1 L757.99,1126.9 L762.65,1127.5 L767.32,1127.9 L771.98,1128.2 L776.64,1128.4 L781.30,1128.6 L785.96,1128.7 L790.62,1128.8 L795.28,1128.9 L799.94,1128.9 L804.61,1128.9 L809.27,1129.0 L813.93,1129.0 L818.59,1129.0 L823.25,1129.0 L827.91,1129.0 L832.57,1129.0 L837.23,1129.0 L841.90,1129.0 L846.56,1129.0 L851.22,1129.0 L855.88,1129.0 L860.54,1129.0 L865.20,1129.0 L869.86,1129.0 L874.52,1129.0 L879.19,1129.0 L883.85,1129.0 L888.51,1129.0 L893.17,1129.0 L897.83,1129.0 L902.49,1129.0 L907.15,1129.0 L911.81,1129.0 L916.48,1129.0 L921.14,1129.0 L925.80,1129.0 L930.46,1129.0 L935.12,1129.0 L939.78,1129.0 L944.44,1129.0 L949.10,1129.0 L953.76,1129.0 L958.43,1129.0 L963.09,1129.0 L967.75,1129.0 L972.41,1129.0 L977.07,1129.0 L981.73,1129.0 L986.39,1129.0 L991.05,1129.0 L995.72,1129.0 L1000.38,1129.0 L1005.04,1129.0 L1009.70,1129.0 L1014.36,1129.0 L1019.02,1129.0 L1023.68,1129.0 L1028.34,1129.0 L1033.01,1129.0 L1037.67,1129.0 L1042.33,1129.0 L1046.99,1129.0 L1051.65,1129.0 L1056.31,1129.0 L1060.97,1129.0 L1065.63,1129.0 L1070.30,1129.0 L1074.96,1129.0 L1079.62,1129.0 L1084.28,1129.0 L1088.94,1129.0 L1093.60,1129.0 L1098.26,1129.0 L1102.92,1129.0 L1107.59,1129.0 L1112.25,1129.0 L1116.91,1129.0 L1121.57,1129.0 L1126.23,1129.0 L1130.89,1129.0 L1135.55,1129.0 L1140.21,1129.0 L1144.88,1129.0 L1149.54,1129.0 L1154.20,1129.0 L1158.86,1129.0 L1163.52,1129.0 L1168.18,1129.0 L1172.84,1129.0 L1177.50,1129.0 L1182.16,1129.0 L1186.83,1129.0 L1191.49,1129.0 L1196.15,1129.0 L1200.81,1129.0 L1205.47,1129.0 L1210.13,1129.0 L1214.79,1129.0 L1219.45,1129.0 L1224.12,1129.0 L1228.78,1129.0 L1233.44,1129.0 L1238.10,1129.0 L1242.76,1129.0 L1247.42,1129.0 L1252.08,1129.0 L1256.74,1129.0 L1261.41,1129.0 L1266.07,1129.0 L1270.73,1129.0 L1275.39,1129.0 L1280.05,1129.0 L1284.71,1129.0 L1289.37,1129.0 L1294.03,1129.0 L1298.70,1129.0 L1303.36,1129.0 L1308.02,1129.0 L1312.68,1129.0 L1317.34,1129.0 L1322.00,1129.0 L1326.66,1129.0 L1331.32,1129.0 L1335.99,1129.0 L1340.65,1129.0 L1345.31,1129.0 L1349.97,1129.0 L1354.63,1129.0 L1359.29,1129.0 L1363.95,1129.0 L1368.61,1129.0 L1373.28,1129.0 L1377.94,1129.0 L1382.60,1129.0 L1387.26,1129.0 L1391.92,1129.0 L1396.58,1129.0 L1401.24,1129.0 L1405.90,1129.0 L1410.56,1129.0 L1415.23,1129.0 L1419.89,1129.0 L1424.55,1129.0 L1429.21,1129.0 L1433.87,1129.0 L1438.53,1129.0 L1443.19,1129.0 L1447.85,1129.0 L1452.52,1129.0 L1457.18,1129.0 L1461.84,1129.0 L1466.50,1129.0 L1471.16,1129.0 L1475.82,1129.0 L1480.48,1129.0 L1485.14,1129.0 L1489.81,1129.0 L1494.47,1129.0 L1498.66,1129.0" stroke="#0f0"/>
<path d="M337.55,1070.9 L338.48,1070.3 L343.14,1067.3 L347.81,1064.2 L352.47,1060.9 L357.13,1057.6 L361.79,1054.2 L366.45,1050.6 L371.11,1047.0 L375.77,1043.3 L380.43,1039.5 L385.10,1035.6 L389.76,1031.6 L394.42,1027.5 L399.08,1023.3 L403.74,1019.0 L408.40,1014.7 L413.06,1010.3 L417.72,1005.8 L422.39,1001.3 L427.05,996.7 L431.71,992.0 L436.37,987.4 L441.03,982.6 L445.69,977.9 L450.35,973.1 L455.01,968.3 L459.68,963.4 L464.34,958.6 L469.00,953.8 L473.66,949.0 L478.32,944.2 L482.98,939.4 L487.64,934.7 L492.30,930.0 L496.96,925.4 L501.63,920.8 L506.29,916.4 L510.95,912.0 L515.61,907.7 L520.27,903.4 L524.93,899.4 L529.59,895.4 L534.25,891.5 L538.92,887.8 L543.58,884.2 L548.24,880.8 L552.90,877.6 L557.56,874.5 L562.22,871.5 L566.88,868.8 L571.54,866.3 L576.21,863.9 L580.87,861.8 L585.53,859.8 L590.19,858.1 L594.85,856.5 L599.51,855.2 L604.17,854.1 L608.83,853.3 L613.50,852.6 L618.16,852.2 L622.82,852.1 L627.48,852.1 L632.14,852.4 L636.80,852.9 L641.46,853.6 L646.12,854.6 L650.79,855.8 L655.45,857.2 L660.11,858.9 L664.77,860.8 L669.43,862.8 L674.09,865.1 L678.75,867.6 L683.41,870.3 L688.08,873.2 L692.74,876.2 L697.40,879.4 L702.06,882.8 L706.72,886.4 L711.38,890.1 L716.04,893.9 L720.70,897.9 L725.36,902.0 L730.03,906.2 L734.69,910.6 L739.35,915.0 L744.01,919.5 L748.67,924.1 L753.33,928.7 L757.99,933.4 L762.65,938.2 L767.32,943.0 L771.98,947.9 L776.64,952.7 L781.30,957.6 L785.96,962.5 L790.62,967.4 L795.28,972.2 L799.94,977.1 L804.61,981.9 L809.27,986.7 L813.93,991.5 L818.59,996.2 L823.25,1000.8 L827.91,1005.4 L832.57,1009.9 L837.23,1014.4 L841.90,1018.8 L846.56,1023.1 L851.22,1027.3 L855.88,1031.5 L860.54,1035.5 L865.20,1039.5 L869.86,1043.3 L874.52,1047.1 L879.19,1050.8 L883.85,1054.3 L888.51,1057.8 L893.17,1061.2 L897.83,1064.4 L902.49,1067.6 L907.15,1070.6 L911.81,1073.6 L916.48,1076.4 L921.14,1079.1 L925.80,1081.8 L930.46,1084.3 L935.12,1086.7 L939.78,1089.1 L944.44,1091.3 L949.10,1093.4 L953.76,1095.5 L958.43,1097.4 L963.09,1099.3 L967.75,1101.1 L972.41,1102.8 L977.07,1104.4 L981.73,1105.9 L986.39,1107.4 L991.05,1108.8 L995.72,1110.1 L1000.38,1111.3 L1005.04,1112.5 L1009.70,1113.6 L1014.36,1114.6 L1019.02,1115.6 L1023.68,1116.6 L1028.34,1117.4 L1033.01,1118.3 L1037.67,1119.0 L1042.33,1119.8 L1046.99,1120.4 L1051.65,1121.1 L1056.31,1121.7 L1060.97,1122.2 L1065.63,1122.7 L1070.30,1123.2 L1074.96,1123.7 L1079.62,1124.1 L1084.28,1124.5 L1088.94,1124.8 L1093.60,1125.2 L1098.26,1125.5 L1102.92,1125.8 L1107.59,1126.1 L1112.25,1126.3 L1116.91,1126.5 L1121.57,1126.7 L1126.23,1126.9 L1130.89,1127.1 L1135.55,1127.3 L1140.21,1127.4 L1144.88,1127.6 L1149.54,1127.7 L1154.20,1127.8 L1158.86,1127.9 L1163.52,1128.0 L1168.18,1128.1 L1172.84,1128.2 L1177.50,1128.3 L1182.16,1128.3 L1186.83,1128.4 L1191.49,1128.5 L1196.15,1128.5 L1200.81,1128.6 L1205.47,1128.6 L1210.13,1128.7 L1214.79,1128.7 L1219.45,1128.7 L1224.12,1128.7 L1228.78,1128.8 L1233.44,1128.8 L1238.10,1128.8 L1242.76,1128.8 L1247.42,1128.9 L1252.08,1128.9 L1256.74,1128.9 L1261.41,1128.9 L1266.07,1128.9 L1270.73,1128.9 L1275.39,1128.9 L1280.05,1128.9 L1284.71,1128.9 L1289.37,1128.9 L1294.03,1129.0 L1298.70,1129.0 L1303.36,1129.0 L1308.02,1129.0 L1312.68,1129.0 L1317.34,1129.0 L1322.00,1129.0 L1326.66,1129.0 L1331.32,1129.0 L1335.99,1129.0 L1340.65,1129.0 L1345.31,1129.0 L1349.97,1129.0 L1354.63,1129.0 L1359.29,1129.0 L1363.95,1129.0 L1368.61,1129.0 L1373.28,1129.0 L1377.94,1129.0 L1382.60,1129.0 L1387.26,1129.0 L1391.92,1129.0 L1396.58,1129.0 L1401.24,1129.0 L1405.90,1129.0 L1410.56,1129.0 L1415.23,1129.0 L1419.89,1129.0 L1424.55,1129.0 L1429.21,1129.0 L1433.87,1129.0 L1438.53,1129.0 L1443.19,1129.0 L1447.85,1129.0 L1452.52,1129.0 L1457.18,1129.0 L1461.84,1129.0 L1466.50,1129.0 L1471.16,1129.0 L1475.82,1129.0 L1480.48,1129.0 L1485.14,1129.0 L1489.81,1129.0 L1494.47,1129.0 L1498.66,1129.0" stroke="#00f"/>
<path d="M337.55,1129.0 L338.48,1129.0 L343.14,1129.0 L347.81,1129.0 L352.47,1129.0 L357.13,1129.0 L361.79,1129.0 L366.45,1129.0 L371.11,1129.0 L375.77,1129.0 L380.43,1129.0 L385.10,1129.0 L389.76,1129.0 L394.42,1129.0 L399.08,1129.0 L403.74,1129.0 L408.40,1129.0 L413.06,1129.0 L417.72,1129.0 L422.39,1129.0 L427.05,1129.0 L431.71,1129.0 L436.37,1129.0 L441.03,1129.0 L445.69,1129.0 L450.35,1129.0 L455.01,1129.0 L459.68,1129.0 L464.34,1129.0 L469.00,1129.0 L473.66,1129.0 L478.32,1129.0 L482.98,1129.0 L487.64,1129.0 L492.30,1129.0 L496.96,1129.0 L501.63,1129.0 L506.29,1129.0 L510.95,1129.0 L515.61,1129.0 L520.27,1129.0 L524.93,1129.0 L529.59,1129.0 L534.25,1129.0 L538.92,1129.0 L543.58,1129.0 L548.24,1129.0 L552.90,1129.0 L557.56,1129.0 L562.22,1129.0 L566.88,1129.0 L571.54,1129.0 L576.21,1129.0 L580.87,1129.0 L585.53,1129.0 L590.19,1129.0 L594.85,1129.0 L599.51,1129.0 L604.17,1129.0 L608.83,1129.0 L613.50,1129.0 L618.16,1129.0 L622.82,1129.0 L627.48,1129.0 L632.14,1129.0 L636.80,1129.0 L641.46,1129.0 L646.12,1129.0 L650.79,1129.0 L655.45,1129.0 L660.11,1129.0 L664.77,1129.0 L669.43,1129.0 L674.09,1129.0 L678.75,1129.0 L683.41,1129.0 L688.08,1129.0 L692.74,1129.0 L697.40,1129.0 L702.06,1129.0 L706.72,1129.0 L711.38,1129.0 L716.04,1129.0 L720.70,1129.0 L725.36,1129.0 L730.03,1129.0 L734.69,1129.0 L739.35,1129.0 L744.01,1129.0 L748.67,1129.0 L753.33,1129.0 L757.99,1129.0 L762.65,1129.0 L767.32,1129.0 L771.98,1129.0 L776.64,1129.0 L781.30,1129.0 L785.96,1128.9 L790.62,1128.7 L795.28,1128.4 L799.94,1128.1 L804.61,1127.9 L809.27,1127.5 L813.93,1127.2 L818.59,1126.8 L823.25,1126.4 L827.91,1125.9 L832.57,1125.5 L837.23,1125.1 L841.90,1124.5 L846.56,1123.9 L851.22,1123.2 L855.88,1122.0 L860.54,1120.7 L865.20,1119.4 L869.86,1118.3 L874.52,1117.3 L879.19,1116.3 L883.85,1115.3 L888.51,1114.2 L893.17,1113.2 L897.83,1112.1 L902.49,1111.0 L907.15,1109.8 L911.81,1108.6 L916.48,1107.4 L921.14,1106.2 L925.80,1105.1 L930.46,1103.9 L935.12,1102.7 L939.78,1101.5 L944.44,1100.4 L949.10,1099.5 L953.76,1098.8 L958.43,1098.1 L963.09,1097.5 L967.75,1097.0 L972.41,1096.6 L977.07,1096.2 L981.73,1095.9 L986.39,1095.6 L991.05,1095.4 L995.72,1095.2 L1000.38,1095.3 L1005.04,1095.5 L1009.70,1095.8 L1014.36,1096.2 L1019.02,1096.6 L1023.68,1097.2 L1028.34,1097.9 L1033.01,1098.8 L1037.67,1099.8 L1042.33,1100.9 L1046.99,1102.4 L1051.65,1104.0 L1056.31,1105.6 L1060.97,1107.2 L1065.63,1108.7 L1070.30,1110.3 L1074.96,1111.9 L1079.62,1113.4 L1084.28,1114.8 L1088.94,1116.1 L1093.60,1117.2 L1098.26,1118.2 L1102.92,1119.1 L1107.59,1120.0 L1112.25,1120.8 L1116.91,1121.6 L1121.57,1122.4 L1126.23,1123.2 L1130.89,1123.9 L1135.55,1124.5 L1140.21,1125.0 L1144.88,1125.4 L1149.54,1125.8 L1154.20,1126.1 L1158.86,1126.4 L1163.52,1126.6 L1168.18,1126.8 L1172.84,1127.0 L1177.50,1127.2 L1182.16,1127.3 L1186.83,1127.5 L1191.49,1127.6 L1196.15,1127.7 L1200.81,1127.8 L1205.47,1127.9 L1210.13,1128.0 L1214.79,1128.1 L1219.45,1128.2 L1224.12,1128.3 L1228.78,1128.4 L1233.44,1128.5 L1238.10,1128.6 L1242.76,1128.7 L1247.42,1128.7 L1252.08,1128.8 L1256.74,1128.9 L1261.41,1129.0 L1266.07,1129.0 L1270.73,1129.0 L1275.39,1129.0 L1280.05,1129.0 L1284.71,1129.0 L1289.37,1129.0 L1294.03,1129.0 L1298.70,1129.0 L1303.36,1129.0 L1308.02,1129.0 L1312.68,1129.0 L1317.34,1129.0 L1322.00,1129.0 L1326.66,1129.0 L1331.32,1129.0 L1335.99,1129.0 L1340.65,1129.0 L1345.31,1129.0 L1349.97,1129.0 L1354.63,1129.0 L1359.29,1129.0 L1363.95,1129.0 L1368.61,1129.0 L1373.28,1129.0 L1377.94,1129.0 L1382.60,1129.0 L1387.26,1129.0 L1391.92,1129.0 L1396.58,1129.0 L1401.24,1129.0 L1405.90,1129.0 L1410.56,1129.0 L1415.23,1129.0 L1419.89,1129.0 L1424.55,1129.0 L1429.21,1129.0 L1433.87,1129.0 L1438.53,1129.0 L1443.19,1129.0 L1447.85,1129.0 L1452.52,1129.0 L1457.18,1129.0 L1461.84,1129.0 L1466.50,1129.0 L1471.16,1129.0 L1475.82,1129.0 L1480.48,1129.0 L1485.14,1129.0 L1489.81,1129.0 L1494.47,1129.0 L1498.66,1129.0" stroke="#0ff"/>
<path d="M337.55,1070.6 L338.48,1069.9 L343.14,1066.7 L347.81,1063.3 L352.47,1059.7 L357.13,1055.8 L361.79,1051.5 L366.45,1046.9 L371.11,1041.7 L375.77,1035.8 L380.43,1029.1 L385.10,1021.5 L389.76,1012.6 L394.42,1002.2 L399.08,990.1 L403.74,975.8 L408.40,959.2 L413.06,939.9 L417.72,917.5 L422.39,891.8 L427.05,862.7 L431.71,829.9 L436.37,793.5 L441.03,753.6 L445.69,710.5 L450.35,664.6 L455.01,616.5 L459.68,567.0 L464.34,517.1 L469.00,467.7 L473.66,420.0 L478.32,375.0 L482.98,333.9 L487.64,297.7 L492.30,267.1 L496.96,242.8 L501.63,225.2 L506.29,214.4 L510.95,210.3 L515.61,212.5 L520.27,220.4 L524.93,233.1 L529.59,249.5 L534.25,268.8 L538.92,289.7 L543.58,311.4 L548.24,332.7 L552.90,353.1 L557.56,371.9 L562.22,388.6 L566.88,403.3 L571.54,415.7 L576.21,426.3 L580.87,435.2 L585.53,443.0 L590.19,450.1 L594.85,457.1 L599.51,464.4 L604.17,472.7 L608.83,482.2 L613.50,493.2 L618.16,505.9 L622.82,520.4 L627.48,536.7 L632.14,554.6 L636.80,573.9 L641.46,594.4 L646.12,615.8 L650.79,637.7 L655.45,659.8 L660.11,681.7 L664.77,703.2 L669.43,724.0 L674.09,743.9 L678.75,762.8 L683.41,780.5 L688.08,796.9 L692.74,812.1 L697.40,826.0 L702.06,838.7 L706.72,850.3 L711.38,860.9 L716.04,870.5 L720.70,879.3 L725.36,887.3 L730.03,894.8 L734.69,901.7 L739.35,908.2 L744.01,914.4 L748.67,920.2 L753.33,925.9 L757.99,931.3 L762.65,936.7 L767.32,941.9 L771.98,947.1 L776.64,952.2 L781.30,957.2 L785.96,962.1 L790.62,966.9 L795.28,971.5 L799.94,976.1 L804.61,980.7 L809.27,985.2 L813.93,989.6 L818.59,993.9 L823.25,998.2 L827.91,1002.3 L832.57,1006.4 L837.23,1010.5 L841.90,1014.3 L846.56,1018.0 L851.22,1021.5 L855.88,1024.5 L860.54,1027.2 L865.20,1029.9 L869.86,1032.7 L874.52,1035.4 L879.19,1038.1 L883.85,1040.6 L888.51,1043.0 L893.17,1045.3 L897.83,1047.5 L902.49,1049.6 L907.15,1051.4 L911.81,1053.2 L916.48,1054.8 L921.14,1056.4 L925.80,1057.8 L930.46,1059.2 L935.12,1060.4 L939.78,1061.6 L944.44,1062.7 L949.10,1063.9 L953.76,1065.3 L958.43,1066.6 L963.09,1067.9 L967.75,1069.1 L972.41,1070.4 L977.07,1071.6 L981.73,1072.8 L986.39,1074.0 L991.05,1075.1 L995.72,1076.3 L1000.38,1077.6 L1005.04,1079.0 L1009.70,1080.4 L1014.36,1081.8 L1019.02,1083.2 L1023.68,1084.7 L1028.34,1086.4 L1033.01,1088.1 L1037.67,1089.8 L1042.33,1091.7 L1046.99,1093.8 L1051.65,1096.0 L1056.31,1098.3 L1060.97,1100.4 L1065.63,1102.5 L1070.30,1104.5 L1074.96,1106.5 L1079.62,1108.5 L1084.28,1110.3 L1088.94,1111.9 L1093.60,1113.4 L1098.26,1114.7 L1102.92,1115.9 L1107.59,1117.1 L1112.25,1118.1 L1116.91,1119.2 L1121.57,1120.2 L1126.23,1121.1 L1130.89,1122.0 L1135.55,1122.8 L1140.21,1123.4 L1144.88,1124.0 L1149.54,1124.5 L1154.20,1124.9 L1158.86,1125.3 L1163.52,1125.6 L1168.18,1125.9 L1172.84,1126.2 L1177.50,1126.4 L1182.16,1126.7 L1186.83,1126.9 L1191.49,1127.1 L1196.15,1127.2 L1200.81,1127.4 L1205.47,1127.6 L1210.13,1127.7 L1214.79,1127.8 L1219.45,1128.0 L1224.12,1128.1 L1228.78,1128.2 L1233.44,1128.3 L1238.10,1128.4 L1242.76,1128.5 L1247.42,1128.6 L1252.08,1128.7 L1256.74,1128.8 L1261.41,1128.9 L1266.07,1128.9 L1270.73,1128.9 L1275.39,1128.9 L1280.05,1128.9 L1284.71,1128.9 L1289.37,1128.9 L1294.03,1129.0 L1298.70,1129.0 L1303.36,1129.0 L1308.02,1129.0 L1312.68,1129.0 L1317.34,1129.0 L1322.00,1129.0 L1326.66,1129.0 L1331.32,1129.0 L1335.99,1129.0 L1340.65,1129.0 L1345.31,1129.0 L1349.97,1129.0 L1354.63,1129.0 L1359.29,1129.0 L1363.95,1129.0 L1368.61,1129.0 L1373.28,1129.0 L1377.94,1129.0 L1382.60,1129.0 L1387.26,1129.0 L1391.92,1129.0 L1396.58,1129.0 L1401.24,1129.0 L1405.90,1129.0 L1410.56,1129.0 L1415.23,1129.0 L1419.89,1129.0 L1424.55,1129.0 L1429.21,1129.0 L1433.87,1129.0 L1438.53,1129.0 L1443.19,1129.0 L1447.85,1129.0 L1452.52,1129.0 L1457.18,1129.0 L1461.84,1129.0 L1466.50,1129.0 L1471.16,1129.0 L1475.82,1129.0 L1480.48,1129.0 L1485.14,1129.0 L1489.81,1129.0 L1494.47,1129.0 L1498.66,1129.0" stroke="#f0f"/>
</g>
</g>
<path d="M1146 364H1198M1229.8 364H1282" stroke="#000" stroke-width="2.4" fill="none"/>
<ellipse cx="1213.4" cy="363.5" rx="14.8" ry="13.8" fill="#000"/>
<path d="M1147 435 H1281" stroke="#f00" stroke-width="8" stroke-linecap="round" fill="none"/>
<path d="M1147 506 H1281" stroke="#0f0" stroke-width="8" stroke-linecap="round" fill="none"/>
<path d="M1147 577 H1281" stroke="#00f" stroke-width="8" stroke-linecap="round" fill="none"/>
<path d="M1147 648 H1281" stroke="#0ff" stroke-width="8" stroke-linecap="round" fill="none"/>
<path d="M1147 719 H1281" stroke="#f0f" stroke-width="8" stroke-linecap="round" fill="none"/>
<g filter="url(#bw)">
<text x="1297.03" y="383.00" font-size="57.8" letter-spacing="0.916">Experimental Data</text>
<text x="1297.13" y="454.00" font-size="57.8" letter-spacing="1.480">Peak 1</text>
<text x="1297.13" y="525.00" font-size="57.8" letter-spacing="0.998">Peak 2</text>
<text x="1297.13" y="596.00" font-size="57.8" letter-spacing="0.952">Peak 3</text>
<text x="1297.13" y="667.00" font-size="57.8" letter-spacing="0.937">Peak 4</text>
<text x="1297.13" y="738.00" font-size="57.8" letter-spacing="0.735">Fitted Data</text>
<text x="115.34" y="81.0" font-size="73.8" letter-spacing="1.032">2.0x10</text>
<text x="347.48" y="50.70" font-size="49.5" letter-spacing="0.000" stroke="#000" stroke-width="0.9">5</text>
<text x="115.34" y="297.5" font-size="73.8" letter-spacing="1.032">1.6x10</text>
<text x="347.48" y="267.20" font-size="49.5" letter-spacing="0.000" stroke="#000" stroke-width="0.9">5</text>
<text x="115.34" y="514.0" font-size="73.8" letter-spacing="1.032">1.2x10</text>
<text x="347.48" y="483.70" font-size="49.5" letter-spacing="0.000" stroke="#000" stroke-width="0.9">5</text>
<text x="115.34" y="730.5" font-size="73.8" letter-spacing="1.032">8.0x10</text>
<text x="347.25" y="700.20" font-size="49.5" letter-spacing="0.000" stroke="#000" stroke-width="0.9" textLength="25.88" lengthAdjust="spacingAndGlyphs">4</text>
<text x="115.34" y="947.0" font-size="73.8" letter-spacing="1.032">4.0x10</text>
<text x="347.25" y="916.70" font-size="49.5" letter-spacing="0.000" stroke="#000" stroke-width="0.9" textLength="25.88" lengthAdjust="spacingAndGlyphs">4</text>
<text x="269.88" y="1158.00" font-size="73.8" letter-spacing="1.327">0.0</text>
<text x="393.08" y="1229.00" font-size="73.8" letter-spacing="0.000">0</text>
<text x="636.56" y="1229.00" font-size="73.8" letter-spacing="1.370">100</text>
<text x="921.84" y="1229.00" font-size="73.8" letter-spacing="1.377">200</text>
<text x="1208.31" y="1229.00" font-size="73.8" letter-spacing="0.444">300</text>
<text x="1491.38" y="1229.00" font-size="73.8" letter-spacing="2.256">400</text>
<text x="1778.03" y="1229.00" font-size="73.8" letter-spacing="1.083">500</text>
<text x="730.93" y="1304.30" font-size="95.5" letter-spacing="1.183">Temperature</text>
<text x="1348.24" y="1303.20" font-size="89.6" letter-spacing="0.000">(</text>
<text x="1382.82" y="1280.04" font-size="67.5" textLength="56.44" lengthAdjust="spacingAndGlyphs" stroke="#000" stroke-width="1.8">O</text>
<text x="1439.08" y="1304.30" font-size="95.5" letter-spacing="0.000">C</text>
<text x="1513.22" y="1303.20" font-size="89.6">)</text>
<g transform="translate(92.6,970.9) rotate(-90)">
<text x="-1.05" y="0.00" font-size="93.8" letter-spacing="-0.926">TL intensity</text>
<text x="540.01" y="-1.00" font-size="88.1" letter-spacing="0.000">(</text>
<text x="571.55" y="0.00" font-size="93.8" letter-spacing="-1.185">a. u</text>
<text x="729.85" y="-1.00" font-size="88.1">)</text>
</g>
<text x="482.71" y="150.90" font-size="95.5" letter-spacing="2.182">Li</text>
<text x="569.71" y="166.00" font-size="95.5" letter-spacing="0.000">3</text>
<text x="620.92" y="150.90" font-size="95.5" letter-spacing="4.140">Al</text>
<text x="722.03" y="175.80" font-size="64" letter-spacing="0.000" stroke="#000" stroke-width="0.8">3</text>
<text x="757.54" y="150.10" font-size="89.6" letter-spacing="0.000">(</text>
<text x="790.61" y="150.90" font-size="95.5" letter-spacing="2.749">BO</text>
<text x="937.73" y="175.80" font-size="64" letter-spacing="0.000" stroke="#000" stroke-width="0.8">3</text>
<text x="976.81" y="150.10" font-size="89.6" letter-spacing="0.000">)</text>
<text x="1005.23" y="175.10" font-size="64" letter-spacing="0.000" stroke="#000" stroke-width="0.8">4</text>
<text x="1042.51" y="150.90" font-size="95.5" letter-spacing="0.000">:</text>
<text x="1074.51" y="150.90" font-size="95.5" letter-spacing="3.189">Mg</text>
</g>
<g fill="#fff"><rect x="1458.18" y="446.10" width="10.89" height="9.90"/><rect x="1477.00" y="446.10" width="10.08" height="9.90"/><rect x="266.43" y="71.47" width="13.90" height="11.53"/><rect x="290.46" y="71.47" width="12.87" height="11.53"/><rect x="118.66" y="287.97" width="13.90" height="11.53"/><rect x="142.69" y="287.97" width="12.87" height="11.53"/><rect x="266.43" y="287.97" width="13.90" height="11.53"/><rect x="290.46" y="287.97" width="12.87" height="11.53"/><rect x="118.66" y="504.47" width="13.90" height="11.53"/><rect x="142.69" y="504.47" width="12.87" height="11.53"/><rect x="266.43" y="504.47" width="13.90" height="11.53"/><rect x="290.46" y="504.47" width="12.87" height="11.53"/><rect x="266.43" y="720.97" width="13.90" height="11.53"/><rect x="290.46" y="720.97" width="12.87" height="11.53"/><rect x="266.43" y="937.47" width="13.90" height="11.53"/><rect x="290.46" y="937.47" width="12.87" height="11.53"/><rect x="639.88" y="1219.47" width="13.90" height="11.53"/><rect x="663.91" y="1219.47" width="12.87" height="11.53"/></g>
</svg></body></html>
